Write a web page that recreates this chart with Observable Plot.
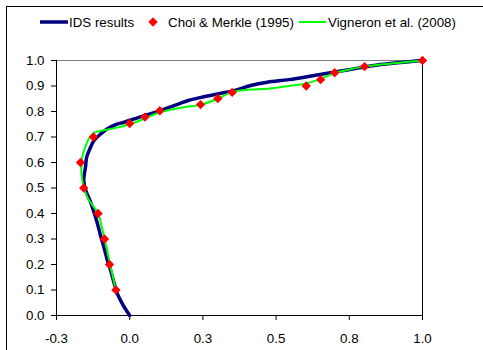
<!DOCTYPE html>
<html>
<head>
<meta charset="utf-8">
<script src="https://cdn.jsdelivr.net/npm/d3@7"></script>
<script src="https://cdn.jsdelivr.net/npm/@observablehq/plot@0.6"></script>
<style>
  html, body { margin: 0; padding: 0; background: white; }
  #wrap { position: relative; width: 483px; height: 350px; overflow: hidden; background: white; }
  #border { position: absolute; left: 6px; top: 6px; width: 520px; height: 400px; border: 1px solid black; box-sizing: border-box; pointer-events: none; }
  #legend { position: absolute; left: 0; top: 0; }
  #chart { position: absolute; left: 0; top: 44px; }
  svg text { font-family: "Liberation Sans", Arial, sans-serif; }
</style>
</head>
<body>
<div id="wrap">
  <div id="border"></div>
  <div id="legend"></div>
  <div id="chart"></div>
</div>
<script>
// Series names
const seriesNames = ["IDS results", "Choi & Merkle (1995)", "Vigneron et al. (2008)"];
const seriesColors = ["#000080", "#FF0000", "#00FF00"];

// IDS results (navy line)
const idsX = [0, -0.025, -0.042, -0.054, -0.065, -0.077, -0.088, -0.1, -0.11, -0.122, -0.136, -0.15, -0.157, -0.151, -0.147, -0.136, -0.122, -0.099, -0.076, -0.048, -0.019, 0.015, 0.049, 0.089, 0.129, 0.168, 0.2, 0.25, 0.3, 0.356, 0.413, 0.47, 0.544, 0.63, 0.743, 0.857, 1.0];
const idsY = [0, 0.046, 0.085, 0.13, 0.176, 0.22, 0.268, 0.315, 0.36, 0.405, 0.451, 0.49, 0.53, 0.582, 0.621, 0.654, 0.686, 0.712, 0.732, 0.749, 0.758, 0.771, 0.784, 0.797, 0.814, 0.83, 0.843, 0.857, 0.869, 0.882, 0.902, 0.915, 0.925, 0.941, 0.963, 0.984, 1.0];

// Choi & Merkle (1995) (red diamonds)
const choiX = [-0.047, -0.069, -0.086, -0.108, -0.157, -0.168, -0.124, 0.0, 0.052, 0.103, 0.242, 0.301, 0.35, 0.603, 0.652, 0.70, 0.802, 1.0];
const choiY = [0.10, 0.20, 0.30, 0.40, 0.50, 0.60, 0.70, 0.753, 0.778, 0.803, 0.827, 0.851, 0.875, 0.90, 0.925, 0.952, 0.976, 1.0];

// Vigneron et al. (2008) (green line)
const vigX = [-0.047, -0.057, -0.067, -0.076, -0.086, -0.096, -0.108, -0.145, -0.162, -0.165, -0.156, -0.127, -0.06, 0.0, 0.052, 0.103, 0.185, 0.242, 0.30, 0.35, 0.413, 0.47, 0.544, 0.60, 0.652, 0.698, 0.743, 0.80, 0.857, 1.0];
const vigY = [0.10, 0.15, 0.20, 0.25, 0.30, 0.35, 0.40, 0.464, 0.53, 0.60, 0.647, 0.712, 0.732, 0.75, 0.773, 0.797, 0.817, 0.826, 0.85, 0.876, 0.886, 0.889, 0.90, 0.909, 0.928, 0.95, 0.963, 0.976, 0.984, 1.0];

// Axis ticks and labels
const xTicks = [-0.25, 0, 0.25, 0.5, 0.75, 1.0];
const xTickLabels = ["-0.3", "0.0", "0.3", "0.5", "0.8", "1.0"];
const yTicks = [0, 0.1, 0.2, 0.3, 0.4, 0.5, 0.6, 0.7, 0.8, 0.9, 1.0];
const yTickLabels = ["0.0", "0.1", "0.2", "0.3", "0.4", "0.5", "0.6", "0.7", "0.8", "0.9", "1.0"];

const ids = idsX.map((x, i) => ({x, y: idsY[i]}));
const choi = choiX.map((x, i) => ({x, y: choiY[i]}));
const vig = vigX.map((x, i) => ({x, y: vigY[i]}));

const font = "13.33px";

const chart = Plot.plot({
  width: 483,
  height: 306,
  marginLeft: 56,
  marginRight: 61,
  marginTop: 16,
  marginBottom: 35,
  x: {domain: [-0.25, 1.0]},
  y: {domain: [0, 1.0]},
  style: {fontFamily: "Liberation Sans, Arial, sans-serif", fontSize: font, color: "black", background: "transparent", overflow: "visible"},
  marks: [
    Plot.ruleY([1.0], {stroke: "#808080", strokeWidth: 1}),
    Plot.ruleX([1.0], {stroke: "black", strokeWidth: 1}),
    Plot.ruleX([-0.25], {stroke: "black", strokeWidth: 1}),
    Plot.ruleY([0], {stroke: "black", strokeWidth: 1}),
    Plot.axisX({ticks: xTicks, tickFormat: d => xTickLabels[xTicks.indexOf(d)], tickSize: 5, tickPadding: 13, label: null, fill: "black", fontSize: font}),
    Plot.axisY({ticks: yTicks, tickFormat: d => yTickLabels[yTicks.indexOf(d)], tickSize: 5, tickPadding: 7, label: null, fill: "black", fontSize: font}),
    Plot.line(ids, {x: "x", y: "y", stroke: seriesColors[0], strokeWidth: 3.5, curve: "catmull-rom"}),
    Plot.line(vig, {x: "x", y: "y", stroke: seriesColors[2], strokeWidth: 2, curve: "catmull-rom"}),
    Plot.dot(choi, {x: "x", y: "y", symbol: "diamond2", r: 4.2, fill: seriesColors[1], stroke: "none"})
  ]
});
document.getElementById("chart").appendChild(chart);

// Legend (real text in a small SVG above the plot)
const lg = d3.select("#legend").append("svg").attr("width", 483).attr("height", 44);
const ly = 22;
lg.append("line").attr("x1", 40).attr("x2", 68).attr("y1", ly).attr("y2", ly).attr("stroke", seriesColors[0]).attr("stroke-width", 3.5);
lg.append("text").attr("x", 69).attr("y", ly).attr("dy", "0.36em").attr("font-size", font).text(seriesNames[0]);
lg.append("path").attr("d", d3.symbol(d3.symbolDiamond2, Math.PI * 4.2 * 4.2)()).attr("transform", `translate(153,${ly})`).attr("fill", seriesColors[1]);
lg.append("text").attr("x", 168).attr("y", ly).attr("dy", "0.36em").attr("font-size", font).text(seriesNames[1]);
lg.append("line").attr("x1", 299).attr("x2", 326).attr("y1", ly).attr("y2", ly).attr("stroke", seriesColors[2]).attr("stroke-width", 2);
lg.append("text").attr("x", 328).attr("y", ly).attr("dy", "0.36em").attr("font-size", font).text(seriesNames[2]);
</script>
</body>
</html>
